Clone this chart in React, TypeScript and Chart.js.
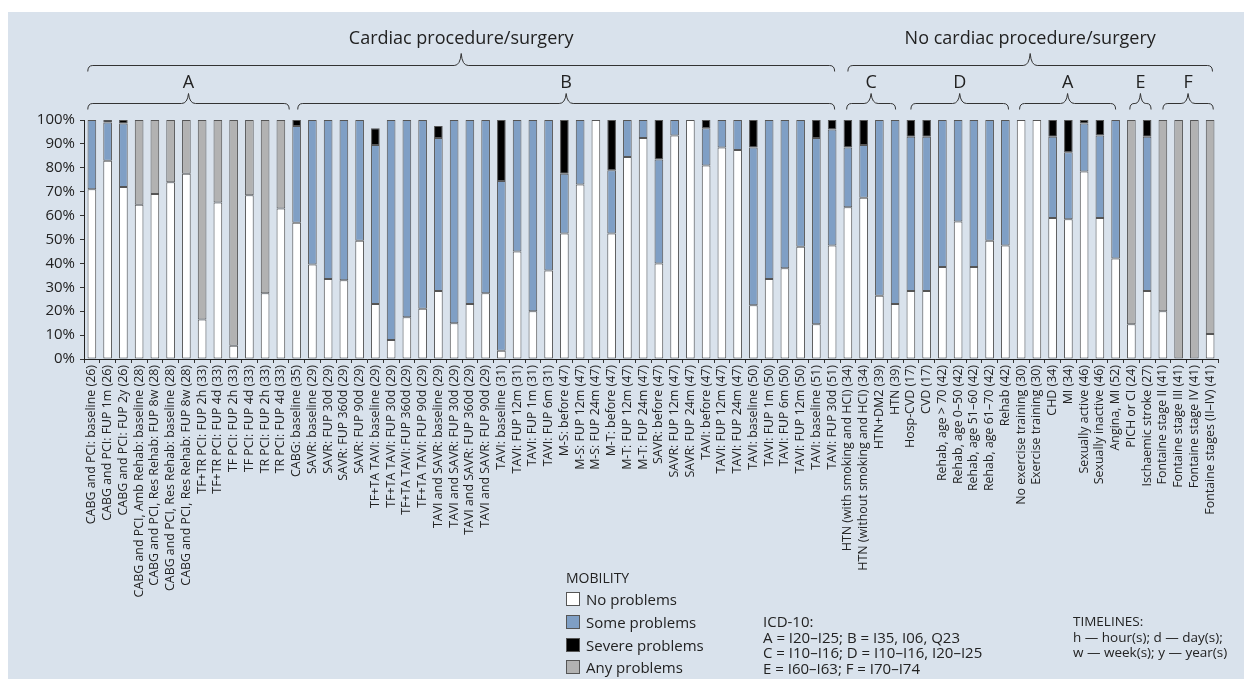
import React, { useEffect, useRef } from 'react';
import { Chart, registerables } from 'chart.js';

Chart.register(...registerables);

const categories = [
  'CABG and PCI: baseline (26)',
  'CABG and PCI: FUP 1m (26)',
  'CABG and PCI: FUP 2y (26)',
  'CABG and PCI, Amb Rehab: baseline (28)',
  'CABG and PCI, Res Rehab: FUP 8w (28)',
  'CABG and PCI, Res Rehab: baseline (28)',
  'CABG and PCI, Res Rehab: FUP 8w (28)',
  'TF+TR PCI: FUP 2h (33)',
  'TF+TR PCI: FUP 4d (33)',
  'TF PCI: FUP 2h (33)',
  'TF PCI: FUP 4d (33)',
  'TR PCI: FUP 2h (33)',
  'TR PCI: FUP 4d (33)',
  'CABG: baseline (35)',
  'SAVR: baseline (29)',
  'SAVR: FUP 30d (29)',
  'SAVR: FUP 360d (29)',
  'SAVR: FUP 90d (29)',
  'TF+TA TAVI: baseline (29)',
  'TF+TA TAVI: FUP 30d (29)',
  'TF+TA TAVI: FUP 360d (29)',
  'TF+TA TAVI: FUP 90d (29)',
  'TAVI and SAVR: baseline (29)',
  'TAVI and SAVR: FUP 30d (29)',
  'TAVI and SAVR: FUP 360d (29)',
  'TAVI and SAVR: FUP 90d (29)',
  'TAVI: baseline (31)',
  'TAVI: FUP 12m (31)',
  'TAVI: FUP 1m (31)',
  'TAVI: FUP 6m (31)',
  'M-S: before (47)',
  'M-S: FUP 12m (47)',
  'M-S: FUP 24m (47)',
  'M-T: before (47)',
  'M-T: FUP 12m (47)',
  'M-T: FUP 24m (47)',
  'SAVR: before (47)',
  'SAVR: FUP 12m (47)',
  'SAVR: FUP 24m (47)',
  'TAVI: before (47)',
  'TAVI: FUP 12m (47)',
  'TAVI: FUP 24m (47)',
  'TAVI: baseline (50)',
  'TAVI: FUP 1m (50)',
  'TAVI: FUP 6m (50)',
  'TAVI: FUP 12m (50)',
  'TAVI: baseline (51)',
  'TAVI: FUP 30d (51)',
  'HTN (with smoking and HCI) (34)',
  'HTN (without smoking and HCI) (34)',
  'HTN+DM2 (39)',
  'HTN (39)',
  'Hosp-CVD (17)',
  'CVD (17)',
  'Rehab, age > 70 (42)',
  'Rehab, age 0–50 (42)',
  'Rehab, age 51–60 (42)',
  'Rehab, age 61–70 (42)',
  'Rehab (42)',
  'No exercise training (30)',
  'Exercise training (30)',
  'CHD (34)',
  'MI (34)',
  'Sexually active (46)',
  'Sexually inactive (46)',
  'Angina, MI (52)',
  'PICH or CI (24)',
  'Ischaemic stroke (27)',
  'Fontaine stage II (41)',
  'Fontaine stage III (41)',
  'Fontaine stage IV (41)',
  'Fontaine stages (II–IV) (41)',
];

const noProblems = [
  71, 83, 72, 64.5, 69, 74, 77.5, 16.5, 65.5, 5.5, 68.5, 27.5, 63,
  57, 39.5, 33.5, 33, 49.5, 23, 8, 17.5, 21, 28.5, 15, 23, 27.5,
  3.5, 45, 20, 37, 52.5, 73, 100, 52.5, 84.5, 92.5, 40, 93.5, 100,
  81, 88.5, 87.5, 22.5, 33.5, 38, 47, 14.5, 47.5,
  63.5, 67.5, 26.5, 23, 28.5, 28.5, 38.5, 57.5, 38.5, 49.5, 47.5,
  100, 100, 59, 58.5, 78.5, 59, 42, 14.5, 28.5, 20, null, null, 10.5,
];

const someProblems = [
  29, 16, 26.5, null, null, null, null, null, null, null, null, null, null,
  40.5, 60.5, 66.5, 67, 50.5, 66.5, 92, 82.5, 79, 64, 85, 77, 72.5,
  71, 55, 80, 63, 25, 27, null, 26.5, 15.5, 7.5, 43.5, 6.5, null,
  15.5, 11.5, 12.5, 66, 66.5, 62, 53, 78, 48.5,
  25, 22, 73.5, 77, 64.5, 64.5, 61.5, 42.5, 61.5, 50.5, 52.5,
  null, null, 34, 28, 20, 34.5, 58, null, 64.5, null, null, null, null,
];

const severeProblems = [
  null, 1, 1.5, null, null, null, null, null, null, null, null, null, null,
  2.5, null, null, null, null, 7, null, null, null, 5, null, null, null,
  25.5, null, null, null, 22.5, null, null, 21, null, null, 16.5, null, null,
  3.5, null, null, 11.5, null, null, null, 7.5, 4,
  11.5, 10.5, null, null, 7, 7, null, null, null, null, null,
  null, null, 7, 13.5, 1.5, 6.5, null, null, 7, null, null, null, null,
];

const anyProblems = [
  null, null, null, 35.5, 31, 26, 22.5, 83.5, 34.5, 94.5, 31.5, 72.5, 37,
  null, null, null, null, null, null, null, null, null, null, null, null, null,
  null, null, null, null, null, null, null, null, null, null, null, null, null,
  null, null, null, null, null, null, null, null, null,
  null, null, null, null, null, null, null, null, null, null, null,
  null, null, null, null, null, null, null, 85.5, null, 80, 100, 100, 89.5,
];

const seriesNames = ['No problems', 'Some problems', 'Severe problems', 'Any problems'];
const seriesColors = ['#ffffff', '#7f9fc5', '#000000', '#b2b2b2'];

const topGroupLabels = ['Cardiac procedure/surgery', 'No cardiac procedure/surgery'];
const topGroupFrom = [-0.26, 48];
const topGroupTo = [47.16, 71.15];

const subGroupLabels = ['A', 'B', 'C', 'D', 'A', 'E', 'F'];
const subGroupFrom = [-0.26, 13.07, 47.92, 52, 58.9, 65.9, 68];
const subGroupTo = [12.53, 47.16, 51.03, 58.2, 65.0, 67.25, 71.2];

const icdLines = [
  'ICD-10:',
  'A = I20–I25; B = I35, I06, Q23',
  'C = I10–I16; D = I10–I16, I20–I25',
  'E = I60–I63; F = I70–I74',
];
const timelineLines = ['TIMELINES:', 'h — hour(s); d — day(s);', 'w — week(s); y — year(s)'];

const FONT = "'Open Sans', sans-serif";
const TEXT = '#222222';
const BG = '#d9e2ec';

function drawBrace(ctx: CanvasRenderingContext2D, x1: number, x2: number, y: number, tipH: number, endH: number) {
  const tip = (x1 + x2) / 2;
  const half = Math.min(7, (x2 - x1) / 4);
  const e = Math.min(5, (x2 - x1) / 5);
  ctx.beginPath();
  ctx.moveTo(x1, y + endH);
  ctx.quadraticCurveTo(x1, y, x1 + e, y);
  ctx.lineTo(tip - half, y);
  ctx.quadraticCurveTo(tip - 1, y, tip, y - tipH);
  ctx.quadraticCurveTo(tip + 1, y, tip + half, y);
  ctx.lineTo(x2 - e, y);
  ctx.quadraticCurveTo(x2, y, x2, y + endH);
  ctx.stroke();
}

const bracketPlugin = {
  id: 'brackets',
  afterDraw(chart: any) {
    const ctx: CanvasRenderingContext2D = chart.ctx;
    const xs = chart.scales.x;
    ctx.save();
    ctx.strokeStyle = '#333333';
    ctx.lineWidth = 1;
    ctx.fillStyle = TEXT;
    ctx.textAlign = 'center';
    ctx.textBaseline = 'middle';
    ctx.font = `18px ${FONT}`;
    topGroupLabels.forEach((lab, i) => {
      const a = xs.getPixelForValue(topGroupFrom[i]);
      const b = xs.getPixelForValue(topGroupTo[i]);
      drawBrace(ctx, a, b, 53.5, 12, 6);
      ctx.fillText(lab, (a + b) / 2, 27);
    });
    subGroupLabels.forEach((lab, i) => {
      const a = xs.getPixelForValue(subGroupFrom[i]);
      const b = xs.getPixelForValue(subGroupTo[i]);
      drawBrace(ctx, a, b, 91.5, 10, 6);
      ctx.fillText(lab, (a + b) / 2, 71);
    });
    ctx.restore();
  },
};

export default function App() {
  const ref = useRef<HTMLCanvasElement>(null);

  useEffect(() => {
    if (!ref.current) return;
    const data = [noProblems, someProblems, severeProblems, anyProblems];
    const chart = new Chart(ref.current, {
      type: 'bar',
      data: {
        labels: categories,
        datasets: data.map((d, i) => ({
          label: seriesNames[i],
          data: d,
          backgroundColor: seriesColors[i],
          borderColor: '#555555',
          borderWidth: 1,
          borderSkipped: false,
          barPercentage: 0.55,
          categoryPercentage: 1,
        })),
      },
      options: {
        responsive: false,
        animation: false,
        devicePixelRatio: 1,
        layout: { padding: { top: 108, right: 26, bottom: 0, left: 0 } },
        plugins: { legend: { display: false }, tooltip: { enabled: false } },
        scales: {
          x: {
            stacked: true,
            offset: true,
            afterFit: (s: any) => { s.height = 320; },
            grid: { display: true, drawOnChartArea: false, drawTicks: true, tickLength: 4, color: '#333333', offset: true },
            border: { display: true, color: '#222222', width: 1 },
            ticks: {
              autoSkip: false,
              maxRotation: 90,
              minRotation: 90,
              padding: 2,
              color: TEXT,
              font: { family: FONT, size: 12.4 },
            },
          },
          y: {
            stacked: true,
            min: 0,
            max: 100,
            afterFit: (s: any) => { s.width = 76; },
            grid: { display: true, drawOnChartArea: false, drawTicks: true, tickLength: 4, color: '#333333' },
            border: { display: true, color: '#222222', width: 1 },
            ticks: {
              stepSize: 10,
              padding: 5,
              color: TEXT,
              font: { family: FONT, size: 15 },
              callback: (v: any) => `${v}%`,
            },
          },
        },
      },
      plugins: [bracketPlugin],
    });
    return () => chart.destroy();
  }, []);

  const txt: React.CSSProperties = { position: 'absolute', fontFamily: FONT, color: TEXT, whiteSpace: 'nowrap' };
  const legendCenters = [587, 610, 633, 655];

  return (
    <div style={{ position: 'fixed', left: 8, top: 12, right: 0, bottom: 0, background: BG, overflow: 'hidden' }}>
      <canvas ref={ref} width={1236} height={667} style={{ display: 'block', width: 1236, height: 667 }} />
      <div style={{ ...txt, left: 558, top: 556, fontSize: 14, lineHeight: '20px' }}>MOBILITY</div>
      {seriesNames.map((n, i) => (
        <React.Fragment key={n}>
          <div
            style={{
              position: 'absolute',
              left: 558,
              top: legendCenters[i] - 7,
              width: 12,
              height: 12,
              background: seriesColors[i],
              border: '1px solid #555555',
            }}
          />
          <div style={{ ...txt, left: 578, top: legendCenters[i] - 10, fontSize: 15, lineHeight: '20px' }}>{n}</div>
        </React.Fragment>
      ))}
      <div style={{ ...txt, left: 755, top: 602, fontSize: 15, lineHeight: '15.5px' }}>
        {icdLines.map((l) => (
          <div key={l}>{l}</div>
        ))}
      </div>
      <div style={{ ...txt, left: 1065, top: 602, fontSize: 13.5, lineHeight: '15.5px' }}>
        {timelineLines.map((l) => (
          <div key={l}>{l}</div>
        ))}
      </div>
    </div>
  );
}
